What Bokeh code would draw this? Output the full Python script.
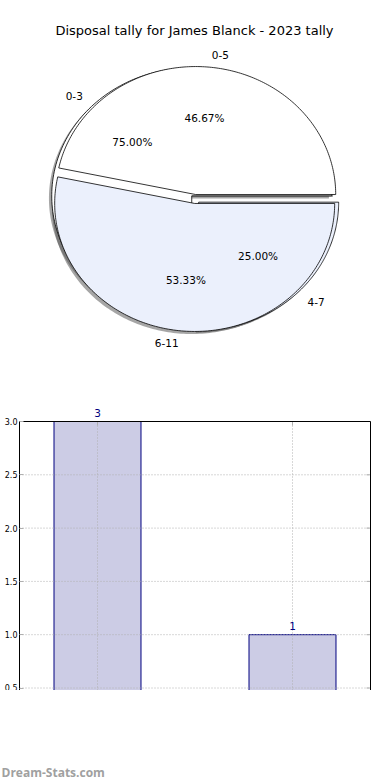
import numpy as np
from bokeh.plotting import figure
from bokeh.layouts import column
from bokeh.models import (Range1d, ColumnDataSource, LabelSet, FixedTicker,
                          NumeralTickFormatter)
from bokeh.core.properties import value
from bokeh.embed import file_html
from bokeh.resources import INLINE

# ---------------- data ----------------
title_text = "Disposal tally for James Blanck - 2023 tally"
outer_labels = ["0-5", "6-11"]
outer_pcts = [46.67, 53.33]
inner_labels = ["0-3", "4-7"]
inner_pcts = [75.00, 25.00]
bar_categories = ["0-3", "4-7"]
bar_counts = [3, 1]
y_ticks = [0.5, 1.0, 1.5, 2.0, 2.5, 3.0]
watermark = "Dream-Stats.com"

# ---------------- styles ----------------
FONT = "DejaVu Sans"
WEDGE_COLORS = ["#FFFFFF", "#EBF0FC"]
BAR_FILL = "#CCCCE5"
BAR_LINE = "#000080"
GRID_COLOR = "#B0B0B0"
TICK_COLOR = "#B0B0B0"

# ---------------- pie ----------------
PW, PH = 390, 388
CX, CY = 194.7, 388 - 198.5   # pie centre in canvas px (y measured from bottom)
RX, RY = 140.0, 128.0         # px per unit radius (elliptical, like a non-square axes)
EXPLODE = 0.035
SHADOW = 0.02

pie = figure(width=PW, height=PH, output_backend="svg", toolbar_location=None,
             x_range=Range1d(0, PW), y_range=Range1d(0, PH), min_border=0,
             x_axis_location=None, y_axis_location=None)
pie.grid.visible = False
pie.outline_line_color = None


def to_px(ux, uy):
    return (CX + RX * np.asarray(ux)).tolist(), (CY + RY * np.asarray(uy)).tolist()


def wedge_angles(pcts):
    fr = np.asarray(pcts, dtype=float) / 100.0
    ends = np.cumsum(fr) * 360.0
    starts = np.concatenate([[0.0], ends[:-1]])
    return starts, ends


def wedge_poly(t1, t2, dx, dy):
    th = np.radians(np.linspace(t1, t2, 180))
    xs = np.concatenate([[0.0], np.cos(th), [0.0]]) + dx
    ys = np.concatenate([[0.0], np.sin(th), [0.0]]) + dy
    return xs, ys


def pie_geometry(pcts):
    starts, ends = wedge_angles(pcts)
    polys, mids = [], []
    for t1, t2 in zip(starts, ends):
        m = np.radians((t1 + t2) / 2.0)
        dx, dy = EXPLODE * np.cos(m), EXPLODE * np.sin(m)
        polys.append(wedge_poly(t1, t2, dx, dy))
        mids.append((m, dx, dy))
    return polys, mids


inner_polys, inner_mids = pie_geometry(inner_pcts)
outer_polys, outer_mids = pie_geometry(outer_pcts)

# shadows (below everything)
for xs, ys in inner_polys + outer_polys:
    sx, sy = to_px(xs - SHADOW, ys - SHADOW)
    pie.patch(sx, sy, fill_color="#4D4D4D", fill_alpha=0.5, line_color=None)

# inner pie, then outer pie on top
for polys in (inner_polys, outer_polys):
    for (xs, ys), col in zip(polys, WEDGE_COLORS):
        wx, wy = to_px(xs, ys)
        pie.patch(wx, wy, fill_color=col, line_color="black", line_width=0.8)

# labels
lx, ly, lt, la = [], [], [], []
px, py, pt = [], [], []
for labels, pcts, mids in ((outer_labels, outer_pcts, outer_mids),
                           (inner_labels, inner_pcts, inner_mids)):
    for lab, pc, (m, dx, dy) in zip(labels, pcts, mids):
        lx.append(dx + 1.1 * np.cos(m))
        ly.append(dy + 1.1 * np.sin(m))
        lt.append(lab)
        la.append("left" if np.cos(m) > 0 else "right")
        px.append(dx + 0.6 * np.cos(m))
        py.append(dy + 0.6 * np.sin(m))
        pt.append(f"{pc:.2f}%")

lxp, lyp = to_px(lx, ly)
pxp, pyp = to_px(px, py)
pie.text(x=lxp, y=lyp, text=lt, text_align=la, text_baseline="middle",
         text_font=value(FONT), text_font_size="10.5px", text_color="black")
pie.text(x=pxp, y=pyp, text=pt, text_align="center", text_baseline="middle",
         text_font=value(FONT), text_font_size="10.5px", text_color="black")

# title: centred at x=194px, 30px below the top of the canvas
pie.text(x=[194], y=[PH - 30], text=[title_text],
         text_align="center", text_baseline="middle",
         text_font=value(FONT), text_font_size="13px", text_color="black")

# ---------------- bars ----------------
BW, BH = 390, 302
FRAME_L, FRAME_R = 19, 370          # px of the plot box sides
Y_TOP_PX = 33                       # px of y=3.0 from canvas top
PX_PER_Y = 106.6
PX_PER_X = 195.0
X0_PX = 97.0                        # px of first bar centre
TICK_PX = 4

xpos = list(range(len(bar_categories)))
ymax = max(y_ticks)
y_end = ymax + Y_TOP_PX / PX_PER_Y
y_start = ymax - (BH - Y_TOP_PX) / PX_PER_Y
x_left = (FRAME_L - X0_PX) / PX_PER_X
x_right = (FRAME_R - X0_PX) / PX_PER_X
bar = figure(width=BW, height=BH, output_backend="svg", toolbar_location=None,
             x_range=Range1d(-X0_PX / PX_PER_X, (BW - X0_PX) / PX_PER_X),
             y_range=Range1d(y_start, y_end),
             x_axis_location=None, min_border=0)
bar.outline_line_color = None
bar.grid.visible = False

ya = bar.yaxis[0]
ya.fixed_location = x_left
ya.ticker = FixedTicker(ticks=y_ticks)
ya.formatter = NumeralTickFormatter(format="0.0")
ya.bounds = (y_start, ymax)
ya.major_label_text_font = FONT
ya.major_label_text_font_size = "8px"
ya.major_label_text_color = "black"
ya.major_label_standoff = 2
ya.major_tick_in = TICK_PX
ya.major_tick_out = 0
ya.major_tick_line_color = TICK_COLOR
ya.minor_tick_line_color = None
ya.axis_line_color = "black"

src = ColumnDataSource(dict(x=xpos, top=bar_counts, cat=bar_categories,
                            lbl=[str(c) for c in bar_counts]))
bar.vbar(x="x", top="top", bottom=0, width=0.446, source=src,
         fill_color=BAR_FILL, line_color=BAR_LINE, line_width=1)

# dotted grid lines (horizontal at the y ticks, vertical at the bar centres)
nt = len(y_ticks)
bar.segment(x0=[x_left] * nt, y0=y_ticks, x1=[x_right] * nt, y1=y_ticks,
            line_color=GRID_COLOR, line_dash="1 2", line_width=1)
bar.segment(x0=xpos, y0=[y_start] * len(xpos), x1=xpos, y1=[ymax] * len(xpos),
            line_color=GRID_COLOR, line_dash="1 2", line_width=1)
# inward ticks on the right side and on the top side
bar.segment(x0=[x_right - TICK_PX / PX_PER_X] * nt, y0=y_ticks, x1=[x_right] * nt, y1=y_ticks,
            line_color=TICK_COLOR, line_width=1)
bar.segment(x0=xpos, y0=[ymax - TICK_PX / PX_PER_Y] * len(xpos), x1=xpos, y1=[ymax] * len(xpos),
            line_color=TICK_COLOR, line_width=1)
# top and right sides of the plot box
bar.segment(x0=[x_left, x_right], y0=[ymax, y_start], x1=[x_right, x_right], y1=[ymax, ymax],
            line_color="black", line_width=1)

bar.add_layout(LabelSet(x="x", y="top", text="lbl", source=src, y_offset=5,
                        text_align="center", text_baseline="alphabetic",
                        text_font=value(FONT), text_font_size="10.5px",
                        text_color=BAR_LINE))

# ---------------- watermark ----------------
WW, WH = 390, 90
wm = figure(width=WW, height=WH, output_backend="svg", toolbar_location=None,
            x_range=Range1d(0, WW), y_range=Range1d(0, WH), min_border=0,
            x_axis_location=None, y_axis_location=None)
wm.grid.visible = False
wm.outline_line_color = None
wm.text(x=[1], y=[8], text=[watermark], text_align="left", text_baseline="alphabetic",
        text_font=value("Open Sans"), text_font_style="bold",
        text_font_size="12px", text_color="#A0A0A0")

layout = column(pie, bar, wm, spacing=0)
open("out.html", "w").write(file_html(layout, INLINE))
